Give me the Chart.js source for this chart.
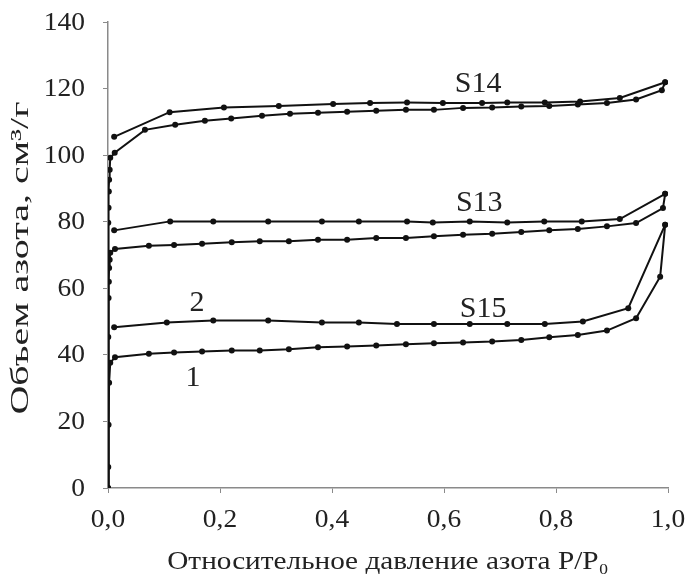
<!DOCTYPE html>
<html>
<head>
<meta charset="utf-8">
<script src="https://cdn.jsdelivr.net/npm/chart.js@4.4.1/dist/chart.umd.min.js"></script>
<style>
  html, body { margin: 0; padding: 0; background: #fff; }
  #wrap { width: 688px; height: 575px; position: relative; }
</style>
</head>
<body>
<div id="wrap"><canvas id="isoChart"></canvas></div>
<script>
// S14 isotherm
const s14AdsX = [0, 0.0005, 0.001, 0.0015, 0.002, 0.003, 0.004, 0.012, 0.066, 0.12, 0.173, 0.22, 0.275, 0.325, 0.375, 0.427, 0.479, 0.532, 0.582, 0.634, 0.686, 0.738, 0.788, 0.839, 0.891, 0.943, 0.989, 0.995];
const s14AdsY = [0, 79.7, 84.2, 89.1, 92.6, 95.6, 99.2, 100.7, 107.6, 109.1, 110.3, 111.0, 111.8, 112.4, 112.7, 113.0, 113.3, 113.6, 113.6, 114.2, 114.3, 114.6, 114.8, 115.2, 115.7, 116.7, 119.5, 121.9];
const s14DesX = [0.995, 0.914, 0.843, 0.780, 0.713, 0.668, 0.598, 0.534, 0.468, 0.402, 0.305, 0.207, 0.11, 0.011];
const s14DesY = [121.9, 117.2, 116.1, 115.8, 115.8, 115.7, 115.7, 115.8, 115.7, 115.4, 114.8, 114.3, 112.9, 105.5];

// S13 isotherm
const s13AdsX = [0, 0.0005, 0.001, 0.0015, 0.002, 0.003, 0.004, 0.0125, 0.073, 0.118, 0.168, 0.221, 0.271, 0.323, 0.375, 0.427, 0.479, 0.532, 0.582, 0.634, 0.686, 0.738, 0.788, 0.839, 0.891, 0.943, 0.991, 0.995];
const s13AdsY = [0, 45.4, 57.1, 62.0, 66.1, 68.6, 70.7, 71.8, 72.8, 73.0, 73.4, 73.8, 74.1, 74.1, 74.6, 74.6, 75.1, 75.1, 75.6, 76.1, 76.4, 76.9, 77.4, 77.8, 78.6, 79.6, 84.1, 88.4];
const s13DesX = [0.995, 0.914, 0.846, 0.779, 0.713, 0.646, 0.580, 0.534, 0.448, 0.382, 0.286, 0.188, 0.111, 0.011];
const s13DesY = [88.4, 80.8, 80.1, 80.1, 79.8, 80.1, 79.8, 80.1, 80.1, 80.1, 80.1, 80.1, 80.1, 77.4];

// S15 isotherm
const s15AdsX = [0, 0.0005, 0.001, 0.002, 0.004, 0.0125, 0.073, 0.118, 0.168, 0.221, 0.271, 0.323, 0.375, 0.427, 0.479, 0.532, 0.582, 0.634, 0.686, 0.738, 0.788, 0.839, 0.891, 0.943, 0.986, 0.995];
const s15AdsY = [0, 6.3, 19.0, 31.6, 37.6, 39.3, 40.3, 40.7, 41.0, 41.3, 41.3, 41.7, 42.3, 42.5, 42.8, 43.2, 43.5, 43.7, 44.0, 44.5, 45.3, 46.0, 47.3, 51.0, 63.5, 79.1];
const s15DesX = [0.995, 0.929, 0.848, 0.780, 0.713, 0.646, 0.582, 0.516, 0.448, 0.382, 0.286, 0.188, 0.105, 0.011];
const s15DesY = [79.1, 54.0, 50.0, 49.3, 49.3, 49.3, 49.3, 49.3, 49.7, 49.7, 50.3, 50.3, 49.7, 48.3];

// curve captions
const curveLabels = ['S14', 'S13', 'S15', '2', '1'];
const curveLabelX = [0.661, 0.663, 0.670, 0.159, 0.152];
const curveLabelY = [121.4, 85.7, 53.8, 55.6, 33.1];

const xTicks = [0, 0.2, 0.4, 0.6, 0.8, 1.0];
const yTicks = [0, 20, 40, 60, 80, 100, 120, 140];
const xTitle = 'Относительное давление азота P/P\u2080';
const yTitle = 'Объем азота, см\u00b3/г';

const serif = "'Liberation Serif', 'Times New Roman', serif";
const ink = '#222';

function zip(xs, ys) {
    return xs.map((x, i) => ({ x: x, y: ys[i] }));
}

function series(xs, ys) {
    return {
        data: zip(xs, ys),
        showLine: true,
        borderColor: '#111',
        borderWidth: 2,
        pointRadius: 3,
        pointBackgroundColor: '#111',
        pointBorderWidth: 0,
        tension: 0
    };
}

// text in the source figure is a bit stretched along its reading direction
function stretchedText(ctx, text, x, y, sx, angle) {
    ctx.save();
    ctx.translate(x, y);
    if (angle) ctx.rotate(angle);
    ctx.scale(sx, 1);
    ctx.fillText(text, 0, 0);
    ctx.restore();
}

// tick labels, axis titles and curve captions
const textPlugin = {
    id: 'figureText',
    afterDraw(chart) {
        const ctx = chart.ctx;
        const xs = chart.scales.x, ys = chart.scales.y;
        const area = chart.chartArea;
        ctx.save();
        ctx.fillStyle = ink;

        ctx.font = '25px ' + serif;
        ctx.textBaseline = 'middle';
        ctx.textAlign = 'right';
        yTicks.forEach(v => stretchedText(ctx, String(v), area.left - 23, ys.getPixelForValue(v) + 1, 1.1));

        ctx.textAlign = 'center';
        xTicks.forEach(v => stretchedText(ctx, v.toFixed(1).replace('.', ','), xs.getPixelForValue(v), area.bottom + 32, 1.1));

        ctx.textBaseline = 'alphabetic';
        stretchedText(ctx, xTitle, (area.left + area.right) / 2, area.bottom + 81, 1.17);

        ctx.textBaseline = 'middle';
        stretchedText(ctx, yTitle, 21, (area.top + area.bottom) / 2 + 3, 1.6, -Math.PI / 2);

        ctx.font = '30px ' + serif;
        curveLabels.forEach((t, i) => {
            ctx.fillText(t, xs.getPixelForValue(curveLabelX[i]), ys.getPixelForValue(curveLabelY[i]));
        });
        ctx.restore();
    }
};

const ctx = document.getElementById('isoChart').getContext('2d');
new Chart(ctx, {
    type: 'scatter',
    data: {
        datasets: [
            series(s14AdsX, s14AdsY),
            series(s14DesX, s14DesY),
            series(s13AdsX, s13AdsY),
            series(s13DesX, s13DesY),
            series(s15AdsX, s15AdsY),
            series(s15DesX, s15DesY)
        ]
    },
    options: {
        responsive: true,
        maintainAspectRatio: false,
        animation: false,
        layout: { padding: { top: 22, right: 20, left: 0, bottom: 0 } },
        plugins: {
            legend: { display: false },
            tooltip: { enabled: false }
        },
        scales: {
            x: {
                type: 'linear',
                min: 0,
                max: 1,
                afterBuildTicks: (s) => { s.ticks = xTicks.map(v => ({ value: v })); },
                afterFit: (s) => { s.height = 87; },
                border: { color: '#8a8a8a', width: 1.5 },
                grid: { drawOnChartArea: false, drawTicks: true, tickLength: 5, color: '#8a8a8a' },
                ticks: { color: 'rgba(0,0,0,0)', maxRotation: 0 }
            },
            y: {
                type: 'linear',
                min: 0,
                max: 140,
                afterBuildTicks: (s) => { s.ticks = yTicks.map(v => ({ value: v })); },
                afterFit: (s) => { s.width = 108; },
                border: { color: '#8a8a8a', width: 1.5 },
                grid: { drawOnChartArea: false, drawTicks: true, tickLength: 5, color: '#8a8a8a' },
                ticks: { color: 'rgba(0,0,0,0)' }
            }
        }
    },
    plugins: [textPlugin]
});
</script>
</body>
</html>
